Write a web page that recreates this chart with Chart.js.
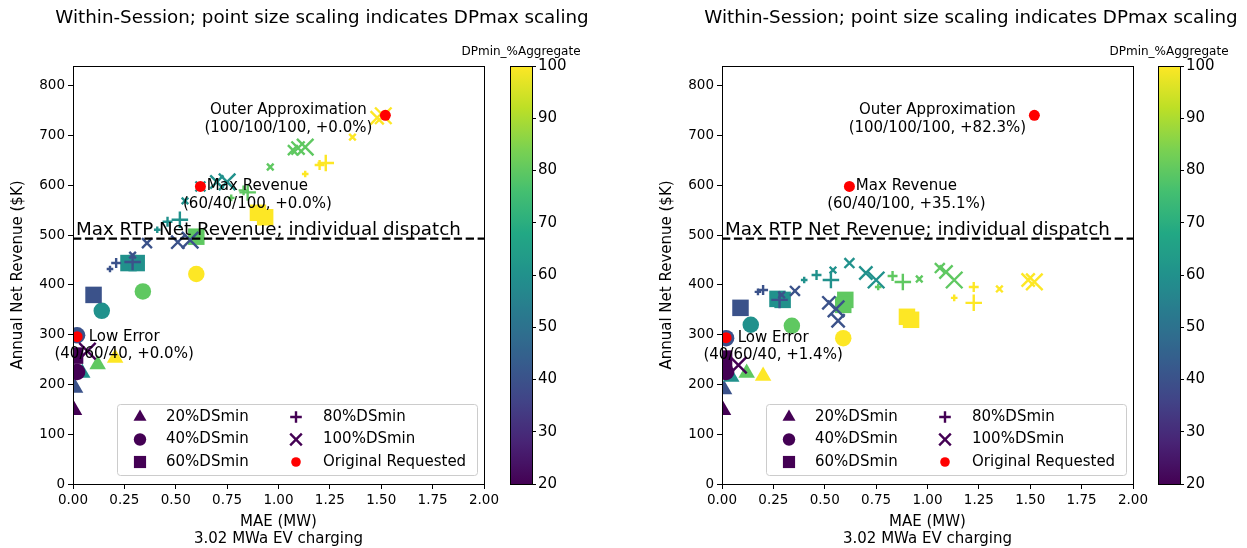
<!DOCTYPE html>
<html>
<head>
<meta charset="utf-8">
<script src="https://cdn.jsdelivr.net/npm/chart.js@4.4.1/dist/chart.umd.min.js"></script>
<style>
  html, body { margin: 0; padding: 0; background: #fff; }
  #wrap { position: relative; width: 1247px; height: 548px; overflow: hidden; background: #fff; }
  canvas { position: absolute; top: 0; }
</style>
</head>
<body>
<div id="wrap">
  <canvas id="scL" width="598" height="548" style="left:0px"></canvas>
  <canvas id="cbL" width="159" height="548" style="left:440px"></canvas>
  <canvas id="scR" width="598" height="548" style="left:649px"></canvas>
  <canvas id="cbR" width="159" height="548" style="left:1088px"></canvas>
</div>
<script>
// ---- data ---------------------------------------------------------------
const dsMinLabels = ['20%DSmin', '40%DSmin', '60%DSmin', '80%DSmin', '100%DSmin'];
const maeTicks = [0, 0.25, 0.5, 0.75, 1.0, 1.25, 1.5, 1.75, 2.0];
const revenueTicks = [0, 100, 200, 300, 400, 500, 600, 700, 800];
const dpMinTicks = [20, 30, 40, 50, 60, 70, 80, 90, 100];
const maxRtpRevenue = 493;   // $K, individual dispatch

// each point: [MAE (MW), annual net revenue ($K), DPmin %, DPmax %]
const leftDS20 = [[0.005,148,20,100],[0.01,193,40,100],[0.045,223,60,100],[0.12,240,80,100],[0.205,253,100,100]];
const leftDS40 = [[0.02,225,20,100],[0.02,299,40,100],[0.14,348,60,100],[0.34,387,80,100],[0.60,422,100,100]];
const leftDS60 = [[0.01,258,20,100],[0.10,380,40,100],[0.27,444,60,100],[0.31,444,60,100],[0.60,497,80,100],[0.90,545,100,100],[0.935,536,100,100]];
const leftDS80 = [[0.015,262,20,60],[0.18,432,40,40],[0.21,444,40,60],[0.29,446,40,100],[0.41,511,60,40],[0.46,527,60,60],[0.52,531,60,100],[0.77,575,80,40],[0.83,590,80,60],[0.85,586,80,100],[1.13,623,100,40],[1.20,641,100,60],[1.23,645,100,100]];
const leftDS100 = [[0.07,267,20,100],[0.29,460,40,40],[0.36,484,40,60],[0.51,486,40,80],[0.57,490,40,100],[0.545,569,60,40],[0.62,598,60,60],[0.70,607,60,80],[0.75,607,60,100],[0.96,637,80,40],[1.07,671,80,60],[1.095,675,80,80],[1.13,677,80,100],[1.36,697,100,40],[1.48,736,100,80],[1.51,740,100,100]];

const rightDS20 = [[0.005,148,20,100],[0.01,190,40,100],[0.045,215,60,100],[0.12,223,80,100],[0.20,217,100,100]];
const rightDS40 = [[0.02,225,20,100],[0.02,293,40,100],[0.14,320,60,100],[0.34,318,80,100],[0.59,293,100,100]];
const rightDS60 = [[0.01,252,20,100],[0.09,354,40,100],[0.27,372,60,100],[0.295,370,60,100],[0.60,370,80,100],[0.59,360,80,100],[0.90,336,100,100],[0.92,330,100,100]];
const rightDS80 = [[0.015,250,20,60],[0.175,386,40,40],[0.20,390,40,60],[0.28,370,40,100],[0.40,410,60,40],[0.46,420,60,60],[0.53,410,60,100],[0.76,396,80,40],[0.83,418,80,60],[0.88,406,80,100],[1.13,374,100,40],[1.225,396,100,60],[1.225,364,100,100]];
const rightDS100 = [[0.08,239,20,100],[0.29,380,40,40],[0.355,388,40,60],[0.52,364,40,80],[0.555,352,40,100],[0.565,328,40,80],[0.54,430,60,40],[0.62,444,60,60],[0.70,424,60,80],[0.75,410,60,100],[0.96,412,80,40],[1.06,434,80,60],[1.09,426,80,80],[1.13,410,80,100],[1.35,392,100,40],[1.49,410,100,80],[1.52,406,100,100]];

// originally requested configurations (DSmin/DPmin/DPmax) and revenue change
const requestedNames = ['Low Error', 'Max Revenue', 'Outer Approximation'];
const requestedCodes = ['40/60/40', '60/40/100', '100/100/100'];
const leftRequested = [[0.02,296],[0.62,598],[1.52,741]];
const rightRequested = [[0.02,294],[0.62,598],[1.52,741]];
const leftChange = [0.0, 0.0, 0.0];
const rightChange = [1.4, 35.1, 82.3];

// ---- styling --------------------------------------------------------------
const FONT = "'DejaVu Sans', sans-serif";
Chart.defaults.font.family = FONT;
Chart.defaults.color = '#000';

const markerStyles = ['triangle', 'circle', 'rect', 'cross', 'crossRot'];
const viridisStops = ['#440154','#482475','#414487','#355f8d','#2a788e','#21918c','#22a884','#44bf70','#7ad151','#bddf26','#fde725'];
const DP_MIN = dpMinTicks[0], DP_MAX = dpMinTicks[dpMinTicks.length - 1];

function hexToRgb(h) { return [1, 3, 5].map(i => parseInt(h.substr(i, 2), 16)); }
function viridis(t) {
  t = Math.min(1, Math.max(0, t));
  const n = viridisStops.length - 1;
  const i = Math.min(n - 1, Math.floor(t * n));
  const f = t * n - i;
  const a = hexToRgb(viridisStops[i]), b = hexToRgb(viridisStops[i + 1]);
  const c = a.map((v, k) => Math.round(v + (b[k] - v) * f));
  return `rgb(${c[0]},${c[1]},${c[2]})`;
}
function colorFor(dpmin) { return viridis((dpmin - DP_MIN) / (DP_MAX - DP_MIN)); }

// marker extent grows with DPmax
function radiusFor(style, dpmax) {
  const e = dpmax * 0.165;
  switch (style) {
    case 'rect': case 'crossRot': return e / Math.SQRT2;
    case 'triangle': return e / Math.sqrt(3);
    default: return e / 2;
  }
}

function groupDataset(points, i) {
  const style = markerStyles[i];
  const stroked = style === 'cross' || style === 'crossRot';
  return {
    label: dsMinLabels[i],
    data: points.map(p => ({ x: p[0], y: p[1], dpmin: p[2], dpmax: p[3] })),
    pointStyle: style,
    pointRadius: c => radiusFor(style, c.raw ? c.raw.dpmax : 100),
    pointBackgroundColor: c => colorFor(c.raw ? c.raw.dpmin : DP_MIN),
    pointBorderColor: c => colorFor(c.raw ? c.raw.dpmin : DP_MIN),
    pointBorderWidth: stroked ? 2.4 : 0,
    order: 10 - i,
    clip: 0
  };
}

const annotOffsets = [[47, 0], [57, 0], [-97, -5]];

const panelDecor = {
  id: 'panelDecor',
  afterDatasetsDraw(chart, args, opts) {
    const { ctx, chartArea: a, scales: { x, y } } = chart;
    ctx.save();

    // reference line label
    ctx.font = `18.3px ${FONT}`;
    ctx.fillStyle = '#000';
    ctx.textAlign = 'left';
    ctx.textBaseline = 'alphabetic';
    ctx.fillText('Max RTP Net Revenue; individual dispatch', x.getPixelForValue(maeTicks[0]) + 3, y.getPixelForValue(maxRtpRevenue) - 3.5);

    // annotations for the requested configurations
    ctx.font = `15px ${FONT}`;
    ctx.textAlign = 'center';
    ctx.textBaseline = 'middle';
    opts.requested.forEach((p, i) => {
      const px = x.getPixelForValue(p[0]) + annotOffsets[i][0];
      const py = y.getPixelForValue(p[1]) + annotOffsets[i][1];
      const ch = opts.changes[i];
      ctx.fillText(requestedNames[i], px, py);
      ctx.fillText(`(${requestedCodes[i]}, ${ch >= 0 ? '+' : ''}${ch.toFixed(1)}%)`, px, py + 17.5);
    });

    // legend box
    const L = a.left + 44, T = 404, R = a.right - 7, B = a.bottom - 9;
    ctx.beginPath();
    if (ctx.roundRect) ctx.roundRect(L + 0.5, T + 0.5, R - L, B - T, 3); else ctx.rect(L + 0.5, T + 0.5, R - L, B - T);
    ctx.fillStyle = 'rgba(255,255,255,0.8)';
    ctx.fill();
    ctx.strokeStyle = '#cccccc';
    ctx.lineWidth = 1;
    ctx.stroke();

    const legendColor = colorFor(DP_MIN);
    const entries = [
      { style: 'triangle', r: 7.5, text: dsMinLabels[0], col: 0, row: 0, color: legendColor },
      { style: 'circle', r: 6.2, text: dsMinLabels[1], col: 0, row: 1, color: legendColor },
      { style: 'rect', r: 8.6, text: dsMinLabels[2], col: 0, row: 2, color: legendColor },
      { style: 'cross', r: 5.8, text: dsMinLabels[3], col: 1, row: 0, color: legendColor, lw: 2.4 },
      { style: 'crossRot', r: 8.2, text: dsMinLabels[4], col: 1, row: 1, color: legendColor, lw: 2.4 },
      { style: 'circle', r: 4.8, text: 'Original Requested', col: 1, row: 2, color: '#ff0000' }
    ];
    const colMarker = [a.left + 67, a.left + 223];
    const colText = [a.left + 93, a.left + 250];
    const rowY = [417, 439.5, 462];
    ctx.font = `15px ${FONT}`;
    ctx.textAlign = 'left';
    ctx.textBaseline = 'middle';
    entries.forEach(e => {
      ctx.fillStyle = e.color;
      ctx.strokeStyle = e.color;
      ctx.lineWidth = e.lw || 0;
      Chart.helpers.drawPoint(ctx, { pointStyle: e.style, radius: e.r, borderWidth: e.lw || 0, rotation: 0 }, colMarker[e.col], rowY[e.row]);
      ctx.fillStyle = '#000';
      ctx.fillText(e.text, colText[e.col], rowY[e.row]);
    });

    // full axes frame
    ctx.strokeStyle = '#000';
    ctx.lineWidth = 1;
    ctx.strokeRect(Math.round(a.left) + 0.5, Math.round(a.top) + 0.5, Math.round(a.right - a.left), Math.round(a.bottom - a.top));

    // panel title
    ctx.font = `18.3px ${FONT}`;
    ctx.fillStyle = '#000';
    ctx.textAlign = 'center';
    ctx.textBaseline = 'middle';
    ctx.fillText('Within-Session; point size scaling indicates DPmax scaling', 322, 18);
    ctx.restore();
  }
};

function makePanel(id, groups, requested, changes) {
  const datasets = [];
  datasets.push({
    type: 'line', label: 'Max RTP Net Revenue',
    data: [{ x: maeTicks[0], y: maxRtpRevenue }, { x: maeTicks[maeTicks.length - 1], y: maxRtpRevenue }],
    borderColor: '#000', borderWidth: 2.2, borderDash: [8.3, 3.6], pointRadius: 0, order: 0, clip: 0
  });
  datasets.push({
    label: 'Original Requested',
    data: requested.map(p => ({ x: p[0], y: p[1] })),
    pointStyle: 'circle', pointRadius: 5.5, pointBackgroundColor: '#ff0000', pointBorderWidth: 0, order: 1
  });
  groups.forEach((pts, i) => datasets.push(groupDataset(pts, i)));

  new Chart(document.getElementById(id), {
    type: 'scatter',
    data: { datasets },
    options: {
      responsive: false, animation: false, events: [],
      layout: { padding: { top: 66, right: 114, left: 0, bottom: 0 } },
      plugins: { legend: { display: false }, tooltip: { enabled: false }, panelDecor: { requested, changes } },
      scales: {
        x: {
          type: 'linear', min: maeTicks[0], max: maeTicks[maeTicks.length - 1],
          afterBuildTicks: s => { s.ticks = maeTicks.map(v => ({ value: v })); },
          afterFit: s => { s.height = 64; },
          ticks: { callback: v => Number(v).toFixed(2), font: { size: 13.5 }, padding: 3, maxRotation: 0, autoSkip: false },
          grid: { drawOnChartArea: false, tickLength: 5, tickColor: '#000' },
          border: { color: '#000', width: 1 },
          title: { display: true, text: ['MAE (MW)', '3.02 MWa EV charging'], font: { size: 15, lineHeight: 1.15 }, padding: { top: 0, bottom: 0.5 } }
        },
        y: {
          type: 'linear', min: 0, max: 840,
          afterBuildTicks: s => { s.ticks = revenueTicks.map(v => ({ value: v })); },
          afterFit: s => { s.width = 73; },
          ticks: { font: { size: 13.5 }, padding: 3, autoSkip: false },
          grid: { drawOnChartArea: false, tickLength: 5, tickColor: '#000' },
          border: { color: '#000', width: 1 },
          title: { display: true, text: 'Annual Net Revenue ($K)', font: { size: 15 }, padding: { top: 9, bottom: 0 } }
        }
      }
    },
    plugins: [panelDecor]
  });
}

const colorbarDecor = {
  id: 'colorbarDecor',
  afterDatasetsDraw(chart) {
    const { ctx, chartArea: a } = chart;
    ctx.save();
    ctx.strokeStyle = '#000';
    ctx.lineWidth = 1;
    ctx.strokeRect(Math.round(a.left) + 0.5, Math.round(a.top) + 0.5, Math.round(a.right - a.left), Math.round(a.bottom - a.top));
    ctx.font = `12px ${FONT}`;
    ctx.fillStyle = '#000';
    ctx.textAlign = 'center';
    ctx.textBaseline = 'middle';
    ctx.fillText('DPmin_%Aggregate', (a.left + a.right) / 2, 52);
    ctx.restore();
  }
};

function makeColorbar(id) {
  new Chart(document.getElementById(id), {
    type: 'bar',
    data: {
      labels: [''],
      datasets: [{
        data: [[DP_MIN, DP_MAX]],
        backgroundColor: c => {
          const { ctx, chartArea } = c.chart;
          if (!chartArea) return viridisStops[0];
          const g = ctx.createLinearGradient(0, chartArea.bottom, 0, chartArea.top);
          for (let k = 0; k <= 40; k++) g.addColorStop(k / 40, viridis(k / 40));
          return g;
        },
        borderWidth: 0, barPercentage: 1, categoryPercentage: 1
      }]
    },
    options: {
      responsive: false, animation: false, events: [],
      layout: { padding: { left: 70, top: 66, bottom: 64, right: 0 } },
      plugins: { legend: { display: false }, tooltip: { enabled: false } },
      scales: {
        x: { display: false },
        y: {
          position: 'right', min: DP_MIN, max: DP_MAX,
          afterBuildTicks: s => { s.ticks = dpMinTicks.map(v => ({ value: v })); },
          afterFit: s => { s.width = 67; },
          ticks: { font: { size: 15 }, padding: 2, autoSkip: false },
          grid: { drawOnChartArea: false, tickLength: 4, tickColor: '#000' },
          border: { display: false }
        }
      }
    },
    plugins: [colorbarDecor]
  });
}

makePanel('scL', [leftDS20, leftDS40, leftDS60, leftDS80, leftDS100], leftRequested, leftChange);
makePanel('scR', [rightDS20, rightDS40, rightDS60, rightDS80, rightDS100], rightRequested, rightChange);
makeColorbar('cbL');
makeColorbar('cbR');
</script>
</body>
</html>
